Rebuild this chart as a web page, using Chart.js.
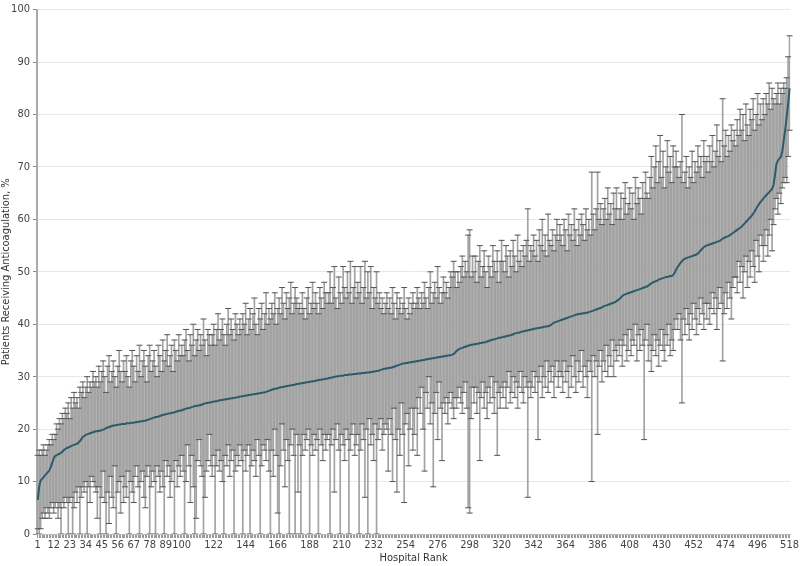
<!DOCTYPE html>
<html>
<head>
<meta charset="utf-8">
<script src="https://cdn.jsdelivr.net/npm/chart.js@4"></script>
<style>
  html, body { margin: 0; padding: 0; background: #fff; }
  #wrap { width: 800px; height: 566px; }
</style>
</head>
<body>
<div id="wrap"><canvas id="chart" width="800" height="566"></canvas></div>
<script>
// Hospital median rate (%), sorted by rank
const median = [
  6.5,9.0,10.2,10.5,10.8,11.2,11.5,11.8,12.1,12.8,13.6,14.4,14.9,15.0,15.2,15.3,15.5,15.7,16.0,16.2,
  16.4,16.5,16.6,16.8,16.9,17.0,17.1,17.2,17.4,17.7,18.1,18.5,18.7,18.9,19.0,19.1,19.2,19.3,19.4,19.5,
  19.6,19.6,19.7,19.7,19.8,19.9,20.0,20.2,20.3,20.4,20.5,20.6,20.7,20.7,20.8,20.8,20.9,20.9,21.0,21.0,
  21.0,21.1,21.1,21.1,21.2,21.2,21.2,21.3,21.3,21.4,21.4,21.5,21.5,21.6,21.6,21.7,21.8,21.9,22.0,22.1,
  22.2,22.3,22.3,22.4,22.5,22.6,22.7,22.8,22.8,22.9,23.0,23.0,23.1,23.1,23.2,23.3,23.4,23.5,23.5,23.6,
  23.7,23.8,23.9,24.0,24.0,24.1,24.2,24.3,24.4,24.4,24.5,24.5,24.6,24.7,24.8,24.9,25.0,25.0,25.1,25.1,
  25.2,25.2,25.3,25.3,25.4,25.5,25.5,25.6,25.6,25.7,25.7,25.8,25.8,25.9,25.9,26.0,26.0,26.1,26.1,26.2,
  26.2,26.3,26.3,26.4,26.4,26.5,26.5,26.6,26.6,26.7,26.7,26.8,26.8,26.9,26.9,27.0,27.0,27.1,27.2,27.3,
  27.4,27.5,27.6,27.7,27.7,27.8,27.9,28.0,28.0,28.1,28.1,28.2,28.2,28.3,28.3,28.4,28.4,28.5,28.6,28.6,
  28.7,28.7,28.8,28.8,28.9,28.9,29.0,29.0,29.1,29.1,29.2,29.2,29.3,29.3,29.4,29.4,29.5,29.5,29.6,29.6,
  29.7,29.8,29.8,29.9,30.0,30.0,30.1,30.1,30.2,30.2,30.2,30.3,30.3,30.3,30.4,30.4,30.4,30.5,30.5,30.5,
  30.6,30.6,30.6,30.7,30.7,30.7,30.8,30.8,30.8,30.9,30.9,31.0,31.0,31.1,31.1,31.2,31.3,31.4,31.5,31.5,
  31.6,31.6,31.7,31.7,31.8,31.9,32.0,32.1,32.2,32.3,32.4,32.5,32.5,32.6,32.6,32.7,32.7,32.8,32.8,32.9,
  32.9,33.0,33.0,33.1,33.1,33.2,33.2,33.3,33.3,33.4,33.4,33.5,33.5,33.6,33.6,33.7,33.7,33.8,33.8,33.9,
  33.9,34.0,34.0,34.1,34.1,34.2,34.3,34.6,34.9,35.1,35.3,35.4,35.5,35.6,35.7,35.8,35.9,36.0,36.1,36.1,
  36.2,36.2,36.3,36.3,36.4,36.4,36.5,36.5,36.6,36.7,36.8,36.9,37.0,37.1,37.1,37.2,37.3,37.4,37.4,37.5,
  37.6,37.6,37.7,37.8,37.8,37.9,38.0,38.1,38.2,38.3,38.4,38.4,38.5,38.6,38.6,38.7,38.8,38.8,38.9,39.0,
  39.0,39.1,39.2,39.2,39.3,39.3,39.4,39.4,39.5,39.5,39.6,39.6,39.7,39.9,40.1,40.3,40.4,40.5,40.6,40.7,
  40.8,40.9,41.0,41.1,41.2,41.3,41.4,41.5,41.6,41.7,41.8,41.9,41.9,42.0,42.0,42.1,42.1,42.2,42.2,42.3,
  42.4,42.5,42.6,42.7,42.8,42.9,43.0,43.1,43.2,43.4,43.5,43.6,43.7,43.8,43.9,44.0,44.1,44.2,44.4,44.6,
  44.8,45.1,45.4,45.6,45.7,45.8,45.9,46.0,46.1,46.2,46.3,46.4,46.5,46.6,46.7,46.8,46.9,47.0,47.1,47.2,
  47.4,47.6,47.8,48.0,48.1,48.2,48.3,48.5,48.6,48.7,48.8,48.9,49.0,49.0,49.1,49.2,49.2,49.4,49.8,50.4,
  50.9,51.3,51.7,52.0,52.3,52.5,52.6,52.7,52.8,52.9,53.0,53.1,53.2,53.3,53.5,53.8,54.1,54.4,54.7,54.9,
  55.0,55.1,55.2,55.3,55.4,55.5,55.6,55.7,55.8,55.9,56.1,56.3,56.5,56.6,56.7,56.8,57.0,57.2,57.4,57.6,
  57.8,58.0,58.2,58.4,58.6,58.9,59.2,59.5,59.8,60.1,60.4,60.7,61.1,61.5,62.0,62.5,62.9,63.3,63.6,64.0,
  64.3,64.6,64.9,65.2,65.5,65.8,66.6,68.5,70.6,71.2,71.6,71.9,73.0,75.0,77.0,79.5,82.0,85.0
];

// upper end of each hospital's interval
const upper = [
  15,16,15,16,17,15,16,17,18,17,19,18,19,21,20,22,21,23,22,24,
  23,25,22,26,24,27,25,26,24,28,27,29,26,28,30,27,29,28,31,29,
  30,28,32,29,31,33,30,27,32,34,29,31,33,30,28,32,35,31,29,33,
  31,34,30,28,33,35,32,29,34,31,36,30,33,35,32,29,34,36,31,33,
  35,32,30,36,34,31,37,33,35,38,32,34,36,31,37,35,33,38,34,36,
  34,37,39,35,33,38,36,40,34,37,39,35,38,36,41,37,34,39,38,36,
  38,40,36,39,42,37,39,41,38,36,40,43,38,41,39,37,42,40,38,41,
  39,42,40,44,38,41,43,39,42,45,40,38,43,41,44,39,42,46,40,43,
  41,44,42,46,40,43,45,42,47,44,41,46,43,45,48,42,44,47,45,43,
  44,42,46,43,41,45,47,42,44,48,43,46,44,42,47,45,43,48,46,44,
  46,50,44,47,51,45,43,49,46,44,51,47,45,50,46,52,44,47,51,45,
  48,46,51,44,47,52,45,50,46,51,43,47,45,50,44,46,43,45,42,44,
  46,43,45,42,47,44,41,46,43,45,42,44,47,43,41,45,42,44,46,43,
  44,47,45,43,46,44,48,45,43,47,50,44,46,48,45,51,47,44,46,49,
  46,48,45,47,50,49,52,50,47,50,48,51,53,49,52,50,57,58,49,53,
  50,53,48,52,55,49,51,54,50,47,53,51,49,55,52,50,54,48,52,56,
  52,50,55,53,49,54,51,56,53,50,57,52,54,51,55,53,56,62,52,55,
  54,57,53,56,52,58,55,60,54,57,53,61,56,55,58,54,57,60,56,59,
  57,55,60,58,54,61,57,59,56,62,58,55,60,57,61,59,56,62,58,60,
  57,69,61,58,62,69,60,63,59,62,64,60,66,61,63,59,65,62,66,60,
  62,65,60,64,67,61,63,66,62,65,60,68,63,66,64,61,67,64,69,65,
  64,68,72,66,70,74,67,71,76,68,73,66,70,75,69,72,67,74,70,73,
  70,68,71,80,67,69,72,66,70,68,73,67,71,69,74,70,72,68,75,71,
  72,69,74,71,76,70,73,78,72,75,71,83,74,77,72,76,73,78,75,77,
  74,79,76,81,77,80,75,82,78,76,81,79,83,77,80,84,78,82,79,83,
  80,84,82,86,81,85,83,82,84,86,82,85,84,86,85,87,91,95
];

// lower end of each hospital's interval
const lower = [
  1,0,1,3,4,3,5,4,3,5,6,4,5,6,3,5,0,6,5,7,
  6,0,6,7,0,5,8,6,9,0,7,9,8,10,0,9,6,11,10,9,
  8,3,9,0,7,12,6,0,8,2,11,7,5,13,0,8,10,4,11,6,
  9,7,12,0,10,8,6,11,13,9,0,10,12,7,5,11,13,0,9,12,
  10,0,13,11,8,12,9,0,14,11,13,7,10,12,0,14,9,13,11,15,
  12,0,10,17,13,6,15,9,0,3,14,18,13,11,0,7,12,14,19,13,
  11,15,0,13,16,12,14,10,0,15,13,17,11,14,16,0,12,15,13,17,
  14,0,16,12,15,17,0,13,16,14,11,18,15,0,13,17,16,14,18,12,
  0,16,11,20,15,4,0,13,21,16,9,18,14,0,17,20,15,0,19,8,
  17,0,15,19,16,18,20,0,17,15,19,16,18,0,20,17,14,19,16,18,
  19,0,17,20,8,18,21,16,0,19,17,14,20,18,0,16,19,21,15,17,
  19,0,16,21,18,7,20,0,22,17,19,14,21,0,18,20,22,16,19,21,
  20,12,22,19,10,24,18,8,20,15,25,19,6,21,23,13,20,24,16,19,
  24,15,26,23,28,20,12,27,24,30,21,25,9,23,27,18,29,24,14,25,
  23,26,21,25,27,24,22,26,24,26,28,25,23,27,29,24,5,4,22,28,
  25,28,23,27,14,26,29,24,27,22,28,25,30,26,23,29,15,27,24,28,
  26,29,24,28,31,25,27,30,26,29,24,28,31,27,25,30,28,7,29,26,
  28,31,27,30,18,29,32,26,30,28,33,27,31,29,32,26,30,33,28,31,
  30,27,33,29,31,26,32,28,34,30,27,33,29,31,35,28,32,30,26,33,
  31,10,34,30,33,19,32,35,29,33,31,36,30,34,32,37,30,35,33,36,
  34,37,32,36,38,33,35,39,34,37,36,40,33,38,35,39,36,18,37,40,
  33,36,31,35,38,34,37,32,36,39,35,33,38,36,40,34,37,35,39,41,
  39,42,37,25,41,38,43,40,37,42,39,44,41,38,43,40,45,42,39,44,
  41,44,40,43,46,42,45,39,43,47,44,33,42,46,43,48,45,41,47,49,
  49,46,52,48,51,45,50,53,47,52,49,54,51,48,56,53,50,57,55,52,
  55,58,53,57,60,54,59,62,64,61,65,63,66,67,68,67,72,77
];

const xTickLabels = [1,12,23,34,45,56,67,78,89,100,122,144,166,188,210,232,254,276,298,320,342,364,386,408,430,452,474,496,518];
const yMin = 0, yMax = 100, yStep = 10;

const ranks = median.map((_, i) => i + 1);
const FONT = "'Liberation Sans Narrow', 'DejaVu Sans Condensed', 'Open Sans', sans-serif";

const capStyle = {
    type: 'line',
    showLine: false,
    pointStyle: 'line',
    pointRadius: 3,
    pointHoverRadius: 3,
    pointBorderColor: '#555',
    pointBorderWidth: 1,
    order: 1
};

new Chart(document.getElementById('chart'), {
    type: 'bar',
    data: {
        labels: ranks,
        datasets: [
            {
                type: 'line',
                data: median,
                borderColor: '#2c5c6b',
                borderWidth: 2,
                pointRadius: 0,
                tension: 0,
                order: 0
            },
            { ...capStyle, data: upper },
            { ...capStyle, data: lower },
            {
                type: 'bar',
                data: ranks.map((_, i) => [lower[i], upper[i]]),
                backgroundColor: '#a2a2a2',
                barThickness: 1,
                order: 2
            }
        ]
    },
    options: {
        responsive: false,
        animation: false,
        events: [],
        layout: { padding: { top: 4, right: 6, left: 0, bottom: 0 } },
        plugins: { legend: { display: false }, tooltip: { enabled: false } },
        scales: {
            x: {
                offset: true,
                afterFit: s => { s.height = 32; },
                grid: { drawOnChartArea: false, offset: false, tickLength: 4, tickColor: '#9a9a9a' },
                border: { color: '#bbb' },
                ticks: {
                    autoSkip: false,
                    maxRotation: 0,
                    minRotation: 0,
                    padding: 1,
                    color: '#444',
                    font: { family: FONT, size: 11 },
                    callback: (v, i) => xTickLabels.includes(ranks[i]) ? String(ranks[i]) : ''
                },
                title: {
                    display: true,
                    text: 'Hospital Rank',
                    color: '#333',
                    font: { family: FONT, size: 11 },
                    padding: { top: 0, bottom: 1 }
                }
            },
            y: {
                min: yMin,
                max: yMax,
                afterFit: s => { s.width = 37; },
                ticks: {
                    stepSize: yStep,
                    padding: 3,
                    color: '#444',
                    font: { family: FONT, size: 11 }
                },
                grid: { color: '#e8e8e8', tickLength: 4, tickColor: '#888' },
                border: { color: '#aaa', width: 2 },
                title: {
                    display: true,
                    text: 'Patients Receiving Anticoagulation, %',
                    color: '#333',
                    font: { family: FONT, size: 11 },
                    padding: { top: 0, bottom: 2 }
                }
            }
        }
    }
});
</script>
</body>
</html>
